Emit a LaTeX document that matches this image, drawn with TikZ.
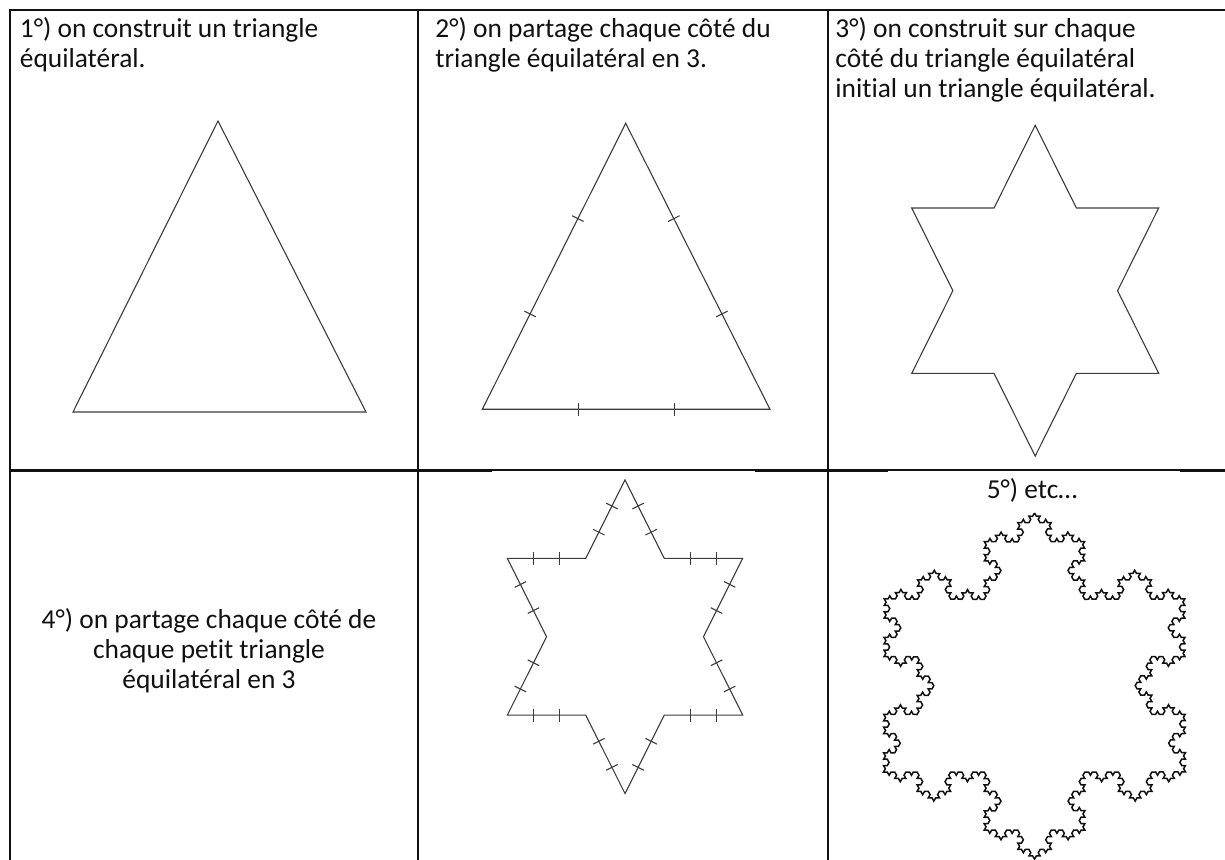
\documentclass[tikz,border=0pt]{standalone}
\usepackage{fontspec}
\setmainfont{Carlito}[Ligatures=NoCommon]
\usepackage{tikz}
\usetikzlibrary{calc, decorations.markings, decorations.fractals}
\definecolor{cInk}{HTML}{111111}
\definecolor{cFig}{HTML}{3c3c3c}
\tikzset{
  rule/.style={draw=cInk, line width=1.4pt},
  thinrule/.style={draw=cInk, line width=0.6pt},
  figline/.style={draw=cFig, line width=0.55pt, line join=miter},
  flake/.style={draw=cInk, line width=0.75pt, decoration=Koch snowflake},
  thirds/.style={postaction={decorate}, decoration={markings,
      mark=at position 0.3333 with {\draw[figline] (0,-3.2pt) -- (0,3.2pt);},
      mark=at position 0.6667 with {\draw[figline] (0,-3.2pt) -- (0,3.2pt);}}},
  caption/.style={font=\fontsize{13.7}{15}\selectfont, text=cInk, inner sep=0pt},
}
% six-pointed star: prefix, centre x, centre y, third of half width, half height
\newcommand{\hexapoints}[5]{%
  \coordinate (#1-1)  at (#2,      #3-2*#5);
  \coordinate (#1-2)  at (#2+#4,   #3-#5);
  \coordinate (#1-3)  at (#2+3*#4, #3-#5);
  \coordinate (#1-4)  at (#2+2*#4, #3);
  \coordinate (#1-5)  at (#2+3*#4, #3+#5);
  \coordinate (#1-6)  at (#2+#4,   #3+#5);
  \coordinate (#1-7)  at (#2,      #3+2*#5);
  \coordinate (#1-8)  at (#2-#4,   #3+#5);
  \coordinate (#1-9)  at (#2-3*#4, #3+#5);
  \coordinate (#1-10) at (#2-2*#4, #3);
  \coordinate (#1-11) at (#2-3*#4, #3-#5);
  \coordinate (#1-12) at (#2-#4,   #3-#5);
}
\begin{document}
\begin{tikzpicture}[x=0.5pt, y=-0.5pt]
\useasboundingbox (0,0) rectangle (1225,860);

% ===================== table =====================
\draw[rule] (1228,10) -- (10,10) -- (10,866);
\draw[rule] (418,10) -- (418,866);
\draw[rule] (828,10) -- (828,866);
\draw[rule] (10,470.7) -- (492,470.7);
\draw[thinrule] (492,470) -- (755,470);
\draw[rule] (755,470.7) -- (888,470.7);
\draw[thinrule] (888,470) -- (1180,470);
\draw[rule] (1180,470.7) -- (1228,470.7);

% ===================== texts (base = last line) =====================
\node[caption, anchor=base west, align=left] (txt1) at (19.5,68)
     {1°) on construit un triangle\\équilatéral.};
\node[caption, anchor=base west, align=left] (txt2) at (435,68)
     {2°) on partage chaque côté du\\triangle équilatéral en 3.};
\node[caption, anchor=base west, align=left] (txt3) at (835,98)
     {3°) on construit sur chaque\\côté du triangle équilatéral\\initial un triangle équilatéral.};
\node[caption, anchor=base, align=center] (txt4) at (209,688)
     {4°) on partage chaque côté de\\chaque petit triangle\\équilatéral en 3};
\node[caption, anchor=base] (txt5) at (1032,499) {5°) etc…};

% ===================== step 1 =====================
\coordinate (t1a) at (218,121);
\coordinate (t1b) at (366,412);
\coordinate (t1c) at (73,412);
\draw[figline] (t1a) -- (t1b) -- (t1c) -- cycle;

% ===================== step 2 =====================
\coordinate (t2a) at (625.7,123.3);
\coordinate (t2b) at (770,409.3);
\coordinate (t2c) at (482.3,409.3);
\draw[figline] (t2a) -- (t2b) -- (t2c) -- cycle;
\foreach \p/\q in {t2a/t2b, t2b/t2c, t2c/t2a}
  \path[thirds] (\p) -- (\q);

% ===================== step 3 =====================
\hexapoints{s1}{1035.2}{290.7}{41.17}{82.7}
\draw[figline] (s1-1) \foreach \i in {2,...,12}{ -- (s1-\i)} -- cycle;

% ===================== step 4 =====================
\hexapoints{s2}{625}{636.7}{39.23}{78.4}
\draw[figline] (s2-1) \foreach \i in {2,...,12}{ -- (s2-\i)} -- cycle;
\foreach \i [remember=\i as \j (initially 12)] in {1,...,12}
  \path[thirds] (s2-\j) -- (s2-\i);

% ===================== step 5 =====================
\coordinate (k1) at (1034.5,513);
\coordinate (k2) at (1185.5,772);
\coordinate (k3) at (883.5,772);
\draw[flake] decorate{decorate{decorate{decorate{(k1) -- (k2) -- (k3) -- (k1)}}}};

\end{tikzpicture}
\end{document}
